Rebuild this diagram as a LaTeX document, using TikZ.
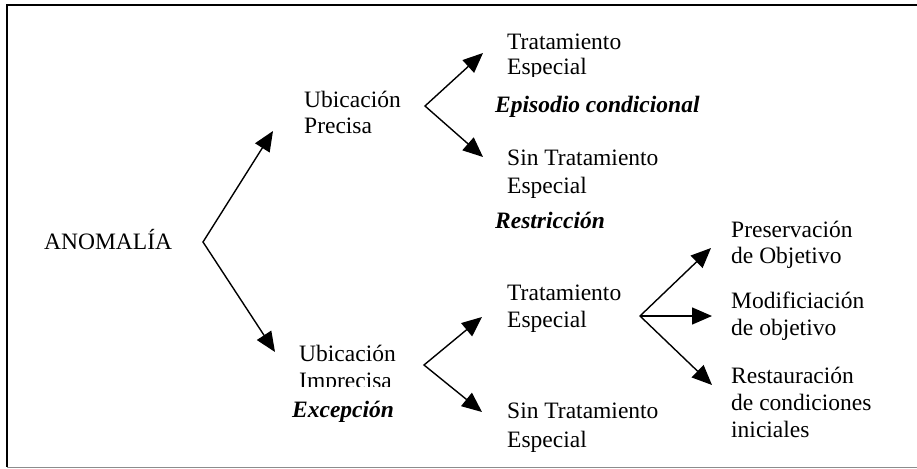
\documentclass[tikz,border=0pt]{standalone}
\usepackage{fontspec}
\setmainfont{Liberation Serif}
\usetikzlibrary{arrows.meta}
\begin{document}
\begin{tikzpicture}[x=1pt,y=-1pt,
  lbl/.style={inner sep=0pt, anchor=base west, font=\fontsize{23.5}{26}\selectfont},
  emtxt/.style={inner sep=0pt, anchor=base west, font=\fontsize{23.5}{26}\selectfont\bfseries\itshape},
  arr/.style={line width=1.4pt, line join=miter, {Triangle[length=20pt,width=17pt]}-{Triangle[length=20pt,width=17pt]}},
  arrone/.style={line width=1.4pt, -{Triangle[length=20pt,width=17pt]}},
  frame/.style={line width=2pt, black},
  framelow/.style={line width=1pt, black!45}
]
\useasboundingbox (0,0) rectangle (917,468);
% frame
\draw[frame] (917,5) -- (7,5) -- (7,467);
\draw[framelow] (7,467) -- (917,467);

% texts
\node[lbl] (anom) at (44,249) {ANOMALÍA};
\node[lbl] (up1) at (304,108) {Ubicación};
\node[lbl] (up2) at (304,133) {Precisa};
\node[lbl] (tt1) at (507,50) {Tratamiento};
\begin{scope}
  \clip (0,0) rectangle (917,77);
  \node[lbl] (tt2) at (507,75) {Especial};
\end{scope}
\node[emtxt] (epi) at (495,113) {Episodio condicional};
\node[lbl] (st1) at (507,165) {Sin Tratamiento};
\node[lbl] (st2) at (507,193) {Especial};
\node[emtxt] (res) at (495,228) {Restricción};

\node[lbl] (ui1) at (299,361) {Ubicación};
\begin{scope}
  \clip (0,0) rectangle (917,386);
  \node[lbl] (ui2) at (299,388.5) {Imprecisa};
\end{scope}
\node[emtxt] (exc) at (292,417) {Excepción};

\node[lbl] (lt1) at (507,300) {Tratamiento};
\node[lbl] (lt2) at (507,327) {Especial};
\node[lbl] (ls1) at (507,418) {Sin Tratamiento};
\node[lbl] (ls2) at (507,447) {Especial};

\node[lbl] (pr1) at (731,237) {Preservación};
\node[lbl] (pr2) at (731,263) {de Objetivo};
\node[lbl] (mo1) at (731,308) {Modificiación};
\node[lbl] (mo2) at (731,335) {de objetivo};
\node[lbl] (re1) at (731,383) {Restauración};
\node[lbl] (re2) at (731,410) {de condiciones};
\node[lbl] (re3) at (731,437) {iniciales};

% branch points and arrow tips
\coordinate (bA) at (203,242);
\coordinate (tA1) at (273,131);
\coordinate (tA2) at (275,352);
\coordinate (bP) at (425,106);
\coordinate (tP1) at (483,53);
\coordinate (tP2) at (483,157);
\coordinate (bI) at (424,365);
\coordinate (tI1) at (482,317);
\coordinate (tI2) at (482,412);
\coordinate (bT) at (640,316);
\coordinate (tT1) at (711,248);
\coordinate (tT2) at (712,316);
\coordinate (tT3) at (712,385);

\draw[arr] (tA1) -- (bA) -- (tA2);
\draw[arr] (tP1) -- (bP) -- (tP2);
\draw[arr] (tI1) -- (bI) -- (tI2);
\draw[arr] (tT1) -- (bT) -- (tT3);
\draw[arrone] (bT) -- (tT2);
\end{tikzpicture}
\end{document}
